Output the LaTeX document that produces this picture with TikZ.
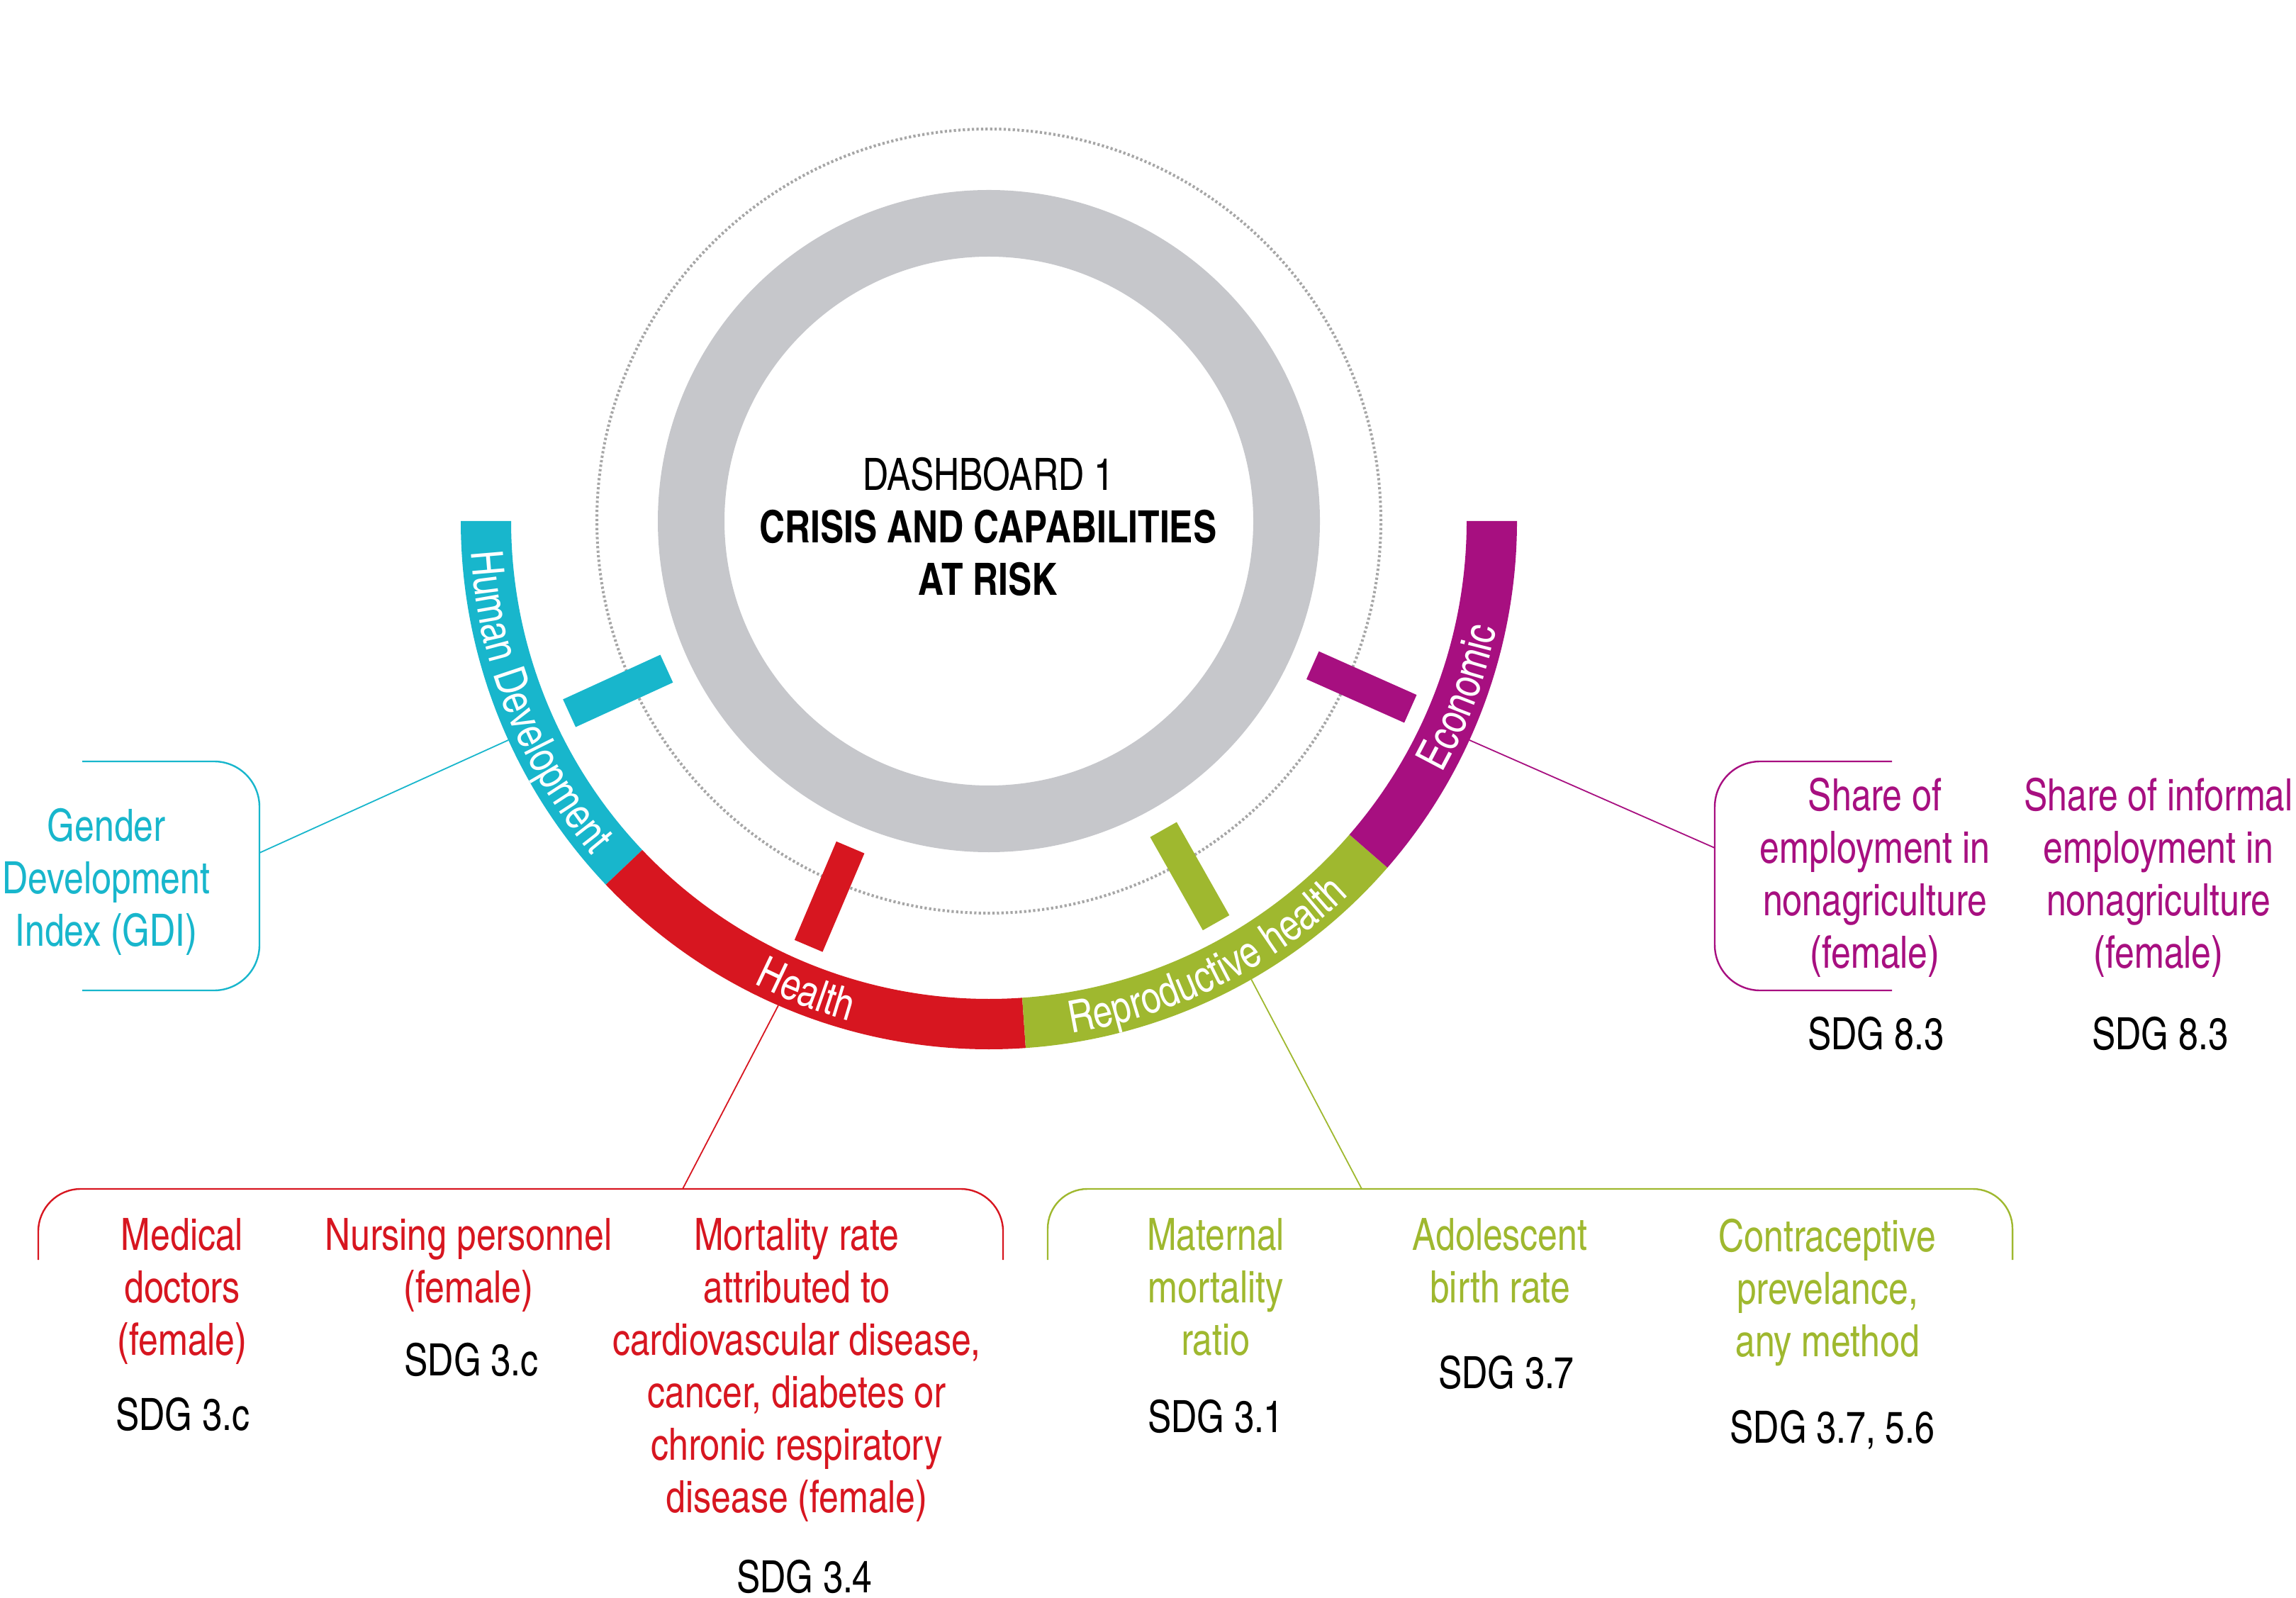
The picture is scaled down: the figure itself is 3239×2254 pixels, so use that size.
\documentclass[tikz,border=0pt]{standalone}
\usepackage{fontspec}
\setmainfont{texgyreheroscn}[Extension=.otf, UprightFont=*-regular, BoldFont=*-bold, ItalicFont=*-italic, BoldItalicFont=*-bolditalic, FakeStretch=0.97]
\usetikzlibrary{decorations.text}

\definecolor{hdcyan}{RGB}{24,182,204}
\definecolor{hlred}{RGB}{215,22,32}
\definecolor{rhgreen}{RGB}{159,184,47}
\definecolor{ecmag}{RGB}{167,15,128}
\definecolor{ringgray}{RGB}{198,199,203}

\newcommand{\dbfont}{\fontsize{15.7}{18.5}\selectfont}

\begin{document}
\begin{tikzpicture}[x=0.25pt,y=0.25pt,
    txt/.style={align=center,anchor=north,inner sep=0pt,font=\dbfont},
    sdg/.style={anchor=base,inner sep=0pt,font=\dbfont},
    bracket/.style={line width=0.6pt,rounded corners=16pt},
    link/.style={line width=0.45pt}]
\useasboundingbox (0,0) rectangle (3239,-2254);
\coordinate (ctr) at (1395,-735);

% ring, band and bars around the centre
\begin{scope}[shift={(ctr)}]
    \draw[gray!70,line width=1pt,dash pattern=on 0.8pt off 0.8pt] (0,0) circle[radius=553];
    \fill[ringgray,even odd rule] (0,0) circle[radius=467] (0,0) circle[radius=373];
    \foreach \a/\b/\c in {180/223.5/hdcyan,223.5/274/hlred,274/319/rhgreen,319/360/ecmag}
        \fill[\c] (\a:674) arc[start angle=\a,end angle=\b,radius=674]
            -- (\b:745) arc[start angle=\b,end angle=\a,radius=745] -- cycle;
    \foreach \a/\c in {204.6/hdcyan,247/hlred,299.5/rhgreen,336/ecmag}
        \fill[\c,rotate=\a] (500,-21.5) rectangle (651,21.5);
    % band labels
    \path[decorate,decoration={text along path,text align=center,text color=white,
        text={|\dbfont|Human Development}}] (180:732) arc[start angle=180,end angle=223.5,radius=732];
    \path[decorate,decoration={text along path,text align=center,text color=white,
        text={|\dbfont|Health}}] (223.5:732) arc[start angle=223.5,end angle=274,radius=732];
    \path[decorate,decoration={text along path,text align=center,text color=white,
        text={|\dbfont|Reproductive health}}] (274:732) arc[start angle=274,end angle=319,radius=732];
    \path[decorate,decoration={text along path,text align=center,text color=white,
        text={|\dbfont|Economic}}] (319:732) arc[start angle=319,end angle=360,radius=732];
    \coordinate (hdfoot) at (204.5:745);
    \coordinate (hlfoot) at (246.5:745);
    \coordinate (rhfoot) at (299.8:745);
    \coordinate (ecfoot) at (335.5:745);
\end{scope}

\node[txt] (title) at (1394,-644) {DASHBOARD 1\\\textbf{CRISIS AND CAPABILITIES}\\\textbf{AT RISK}};

% human development
\node[txt,text=hdcyan] (gdi) at (150,-1139) {Gender\\Development\\Index (GDI)};
\draw[bracket,hdcyan] (116,-1074) -| (366,-1397) -- (116,-1397);
\coordinate (gdijoin) at (366,-1203);
\draw[link,hdcyan] (hdfoot) -- (gdijoin);

% economic
\node[txt,text=ecmag] (share) at (2645,-1096) {Share of\\employment in\\nonagriculture\\(female)};
\node[txt,text=ecmag] (informal) at (3045,-1096) {Share of informal\\employment in\\nonagriculture\\(female)};
\node[sdg] (sdgshare) at (2646,-1480) {SDG 8.3};
\node[sdg] (sdginformal) at (3047,-1480) {SDG 8.3};
\draw[bracket,ecmag] (2669,-1074) -| (2419,-1397) -- (2669,-1397);
\coordinate (ecjoin) at (2419,-1196);
\draw[link,ecmag] (ecfoot) -- (ecjoin);

% health
\node[txt,text=hlred] (doctors) at (257,-1718) {Medical\\doctors\\(female)};
\node[sdg] (sdgdoctors) at (258,-2017) {SDG 3.c};
\node[txt,text=hlred] (nurses) at (661,-1718) {Nursing personnel\\(female)};
\node[sdg] (sdgnurses) at (665,-1940) {SDG 3.c};
\node[txt,text=hlred] (mortality) at (1124,-1718) {Mortality rate\\attributed to\\cardiovascular disease,\\cancer, diabetes or\\chronic respiratory\\disease (female)};
\node[sdg] (sdgmortality) at (1135,-2246) {SDG 3.4};
\draw[bracket,hlred,rounded corners=15pt] (54,-1777) |- (1415,-1677) -- (1415,-1777);
\coordinate (hljoin) at (963,-1677);
\draw[link,hlred] (hlfoot) -- (hljoin);

% reproductive health
\node[txt,text=rhgreen] (maternal) at (1715,-1718) {Maternal\\mortality\\ratio};
\node[sdg] (sdgmaternal) at (1715,-2020) {SDG 3.1};
\node[txt,text=rhgreen] (adolescent) at (2116,-1718) {Adolescent\\birth rate};
\node[sdg] (sdgadolescent) at (2125,-1958) {SDG 3.7};
\node[txt,text=rhgreen] (contra) at (2578,-1718) {Contraceptive\\prevelance,\\any method};
\node[sdg] (sdgcontra) at (2585,-2035) {SDG 3.7, 5.6};
\draw[bracket,rhgreen,rounded corners=14pt] (1478,-1777) |- (2839,-1677) -- (2839,-1777);
\coordinate (rhjoin) at (1921,-1677);
\draw[link,rhgreen] (rhfoot) -- (rhjoin);
\end{tikzpicture}
\end{document}
